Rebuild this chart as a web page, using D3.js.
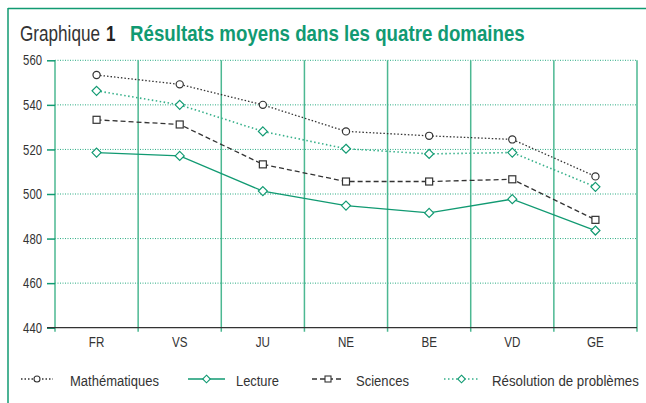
<!DOCTYPE html>
<html><head><meta charset="utf-8">
<script src="https://cdn.jsdelivr.net/npm/d3@7"></script>
<style>
body{margin:0;background:#fff;}
svg text{font-family:"Liberation Sans","Arial",sans-serif;}
</style></head>
<body><svg id="c" width="646" height="403"></svg>
<script>
const categories = ["FR","VS","JU","NE","BE","VD","GE"];
const mathematiques = [553.4, 549.2, 540.0, 528.1, 526.1, 524.5, 507.9];
const lecture = [518.6, 517.1, 501.3, 494.8, 491.5, 497.7, 483.6];
const sciences = [533.3, 531.2, 513.3, 505.6, 505.6, 506.6, 488.4];
const resolution = [546.3, 540.0, 528.1, 520.3, 518.0, 518.6, 503.2];
const yTicks = [440, 460, 480, 500, 520, 540, 560];
const seriesNames = ["Mathématiques","Lecture","Sciences","Résolution de problèmes"];

const svg = d3.select("#c");
const green = "#119a72";
const pL = 55, pR = 637, pT = 60.3, pB = 327.7;

// place a text at (tx,ty) horizontally scaled to width w (or factor f)
function placeText(parent, str, tx, ty, size, opts){
  const el = parent.append("text").attr("x",0).attr("y",0).attr("font-size",size).text(str);
  if(opts.fill) el.attr("fill",opts.fill);
  if(opts.bold) el.attr("font-weight","bold");
  if(opts.anchor) el.attr("text-anchor",opts.anchor);
  const nat = el.node().getComputedTextLength();
  const f = opts.w ? opts.w/nat : opts.f;
  el.attr("transform",`translate(${tx},${ty}) scale(${f},1)`);
  return el;
}

// frame
svg.append("line").attr("x1",8).attr("x2",646).attr("y1",8.5).attr("y2",8.5).attr("stroke",green).attr("stroke-width",1.5);
svg.append("line").attr("x1",8).attr("x2",8).attr("y1",8).attr("y2",403).attr("stroke",green).attr("stroke-width",1.5);

// title
placeText(svg,"Graphique",20,41,22,{fill:"#333",w:80});
placeText(svg,"1",106,41,22,{fill:"#222",bold:true,w:9.5});
placeText(svg,"Résultats moyens dans les quatre domaines",130,41,22,{fill:green,bold:true,w:395});

const x = d3.scaleBand().domain(categories).range([pL,pR]).padding(0);
const y = d3.scaleLinear().domain([440,560]).range([pB,pT]);

// horizontal dotted grid
svg.append("g").selectAll("line").data(yTicks.filter(v=>v>440)).join("line")
  .attr("x1",pL).attr("x2",pR).attr("y1",d=>y(d)).attr("y2",d=>y(d))
  .attr("stroke","#2aab82").attr("stroke-width",1).attr("stroke-dasharray","1,1.5");

// vertical separators
const seps = categories.map(c=>x(c)).concat([x(categories[categories.length-1])+x.bandwidth()]);
svg.append("g").selectAll("line").data(seps).join("line")
  .attr("x1",d=>d).attr("x2",d=>d).attr("y1",pT).attr("y2",pB+4)
  .attr("stroke","#4cb892").attr("stroke-width",1.5);

// y axis
const yAxis = d3.axisLeft(y).tickValues(yTicks).tickSize(8).tickPadding(5);
const gy = svg.append("g").attr("transform",`translate(${pL},0)`).call(yAxis);
gy.select(".domain").remove();
gy.selectAll(".tick line").attr("stroke",green).attr("stroke-width",1.5);
gy.selectAll(".tick text").attr("font-size",14.5).attr("fill","#333").attr("font-family","'Liberation Sans',sans-serif")
  .attr("x",0).attr("transform","translate(-13,0) scale(0.78,1)");

// baseline
svg.append("line").attr("x1",47).attr("x2",pR).attr("y1",pB).attr("y2",pB).attr("stroke","#333").attr("stroke-width",1.3);

// x axis labels
const xAxis = d3.axisBottom(x).tickSize(0);
const gx = svg.append("g").attr("transform",`translate(0,${pB})`).call(xAxis);
gx.select(".domain").remove();
gx.selectAll(".tick text").attr("font-size",15.5).attr("fill","#333").attr("font-family","'Liberation Sans',sans-serif")
  .attr("dy",null).attr("y",0).attr("transform","translate(0,19) scale(0.75,1)");

const cx = c => x(c) + x.bandwidth()/2;
const series = [
  {name:seriesNames[0], vals:mathematiques, color:"#333", dash:"1.5,2", width:1.3, marker:"circle", mcolor:"#333"},
  {name:seriesNames[1], vals:lecture, color:"#119a72", dash:null, width:1.3, marker:"diamond", mcolor:"#119a72"},
  {name:seriesNames[2], vals:sciences, color:"#333", dash:"5,3", width:1.3, marker:"square", mcolor:"#333"},
  {name:seriesNames[3], vals:resolution, color:"#36b08a", dash:"1.5,2.5", width:1.6, marker:"diamond", mcolor:"#119a72"}
];
const line = d3.line().x((d,i)=>cx(categories[i])).y(d=>y(d));

function marker(g, type, px, py, col){
  if(type==="circle") g.append("circle").attr("cx",px).attr("cy",py).attr("r",3.6).attr("fill","#fff").attr("stroke",col).attr("stroke-width",1.2);
  else if(type==="square") g.append("rect").attr("x",px-3.5).attr("y",py-3.5).attr("width",7).attr("height",7).attr("fill","#fff").attr("stroke",col).attr("stroke-width",1.2);
  else g.append("path").attr("d",`M${px},${py-4.5}L${px+4.5},${py}L${px},${py+4.5}L${px-4.5},${py}Z`).attr("fill","#fff").attr("stroke",col).attr("stroke-width",1.2);
}

series.forEach(s=>{
  svg.append("path").datum(s.vals).attr("d",line).attr("fill","none")
    .attr("stroke",s.color).attr("stroke-width",s.width).attr("stroke-dasharray",s.dash);
  const g = svg.append("g");
  s.vals.forEach((v,i)=>marker(g,s.marker,cx(categories[i]),y(v),s.mcolor));
});

// legend
const legendPos = [[21,53,70,89],[188,225,236,43],[312,344,356,53],[444,479,492,147]];
const ly = 379;
series.forEach((s,i)=>{
  const [a,b,tx,tw] = legendPos[i];
  const g = svg.append("g");
  g.append("line").attr("x1",a).attr("x2",b).attr("y1",ly).attr("y2",ly).attr("stroke",s.color)
    .attr("stroke-width",s.width).attr("stroke-dasharray",s.dash);
  const m = (a+b)/2;
  if(s.marker==="circle") g.append("circle").attr("cx",m).attr("cy",ly).attr("r",3).attr("fill","#fff").attr("stroke",s.mcolor).attr("stroke-width",1.1);
  else if(s.marker==="square") g.append("rect").attr("x",m-3).attr("y",ly-3).attr("width",6).attr("height",6).attr("fill","#fff").attr("stroke",s.mcolor).attr("stroke-width",1.1);
  else g.append("path").attr("d",`M${m},${ly-3.8}L${m+3.8},${ly}L${m},${ly+3.8}L${m-3.8},${ly}Z`).attr("fill","#fff").attr("stroke",s.mcolor).attr("stroke-width",1.1);
  placeText(g, s.name, tx, 386, 14.5, {fill:"#333", w:tw});
});
</script></body></html>
